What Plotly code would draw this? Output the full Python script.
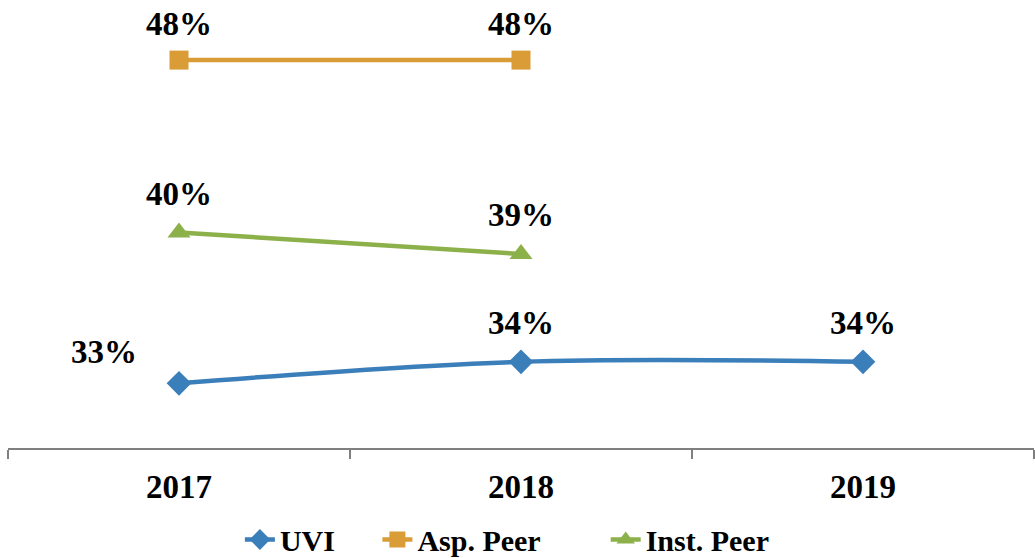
import plotly.graph_objects as go

years = ["2017", "2018", "2019"]
uvi = [33, 34, 34]
asp_peer = [48, 48, None]
inst_peer = [40, 39, None]
series_names = ["UVI", "Asp. Peer", "Inst. Peer"]

FONT = "Liberation Serif"
colors = ["#3A7EBA", "#D99C36", "#8CB04A"]
symbols = ["diamond", "square", "triangle-up"]
sizes = [19, 19, 20]
pads = ["\u00a0" * 5, "\u00a0" * 8, ""]

fig = go.Figure()
for name, vals, col, sym, sz, shape, pad in zip(series_names, [uvi, asp_peer, inst_peer], colors,
                                                 symbols, sizes, ["spline", "linear", "linear"], pads):
    fig.add_trace(go.Scatter(
        x=years, y=vals, name=f"<b>{name}</b>" + pad, mode="lines+markers",
        line=dict(color=col, width=4.5, shape=shape),
        marker=dict(symbol=sym, size=sz, color=col),
    ))

# data labels (x given as category index)
for vals in [uvi, asp_peer, inst_peer]:
    for i, v in enumerate(vals):
        if v is None:
            continue
        xs, ys = 0, 39
        if vals is uvi and i == 0:
            xs, ys = -75, 31
        if vals is asp_peer:
            ys = 36
        fig.add_annotation(x=i, y=v, xref="x", yref="y", text=f"<b>{v}%</b>", showarrow=False,
                           xshift=xs, yshift=ys, yanchor="middle", borderpad=0,
                           font=dict(family=FONT, size=33, color="black"))

fig.update_layout(
    width=1035, height=558,
    margin=dict(l=8, r=1, t=17, b=110, autoexpand=False),
    paper_bgcolor="white", plot_bgcolor="white",
    showlegend=True,
    legend=dict(orientation="h", x=0.226, xanchor="left", y=-0.152, yanchor="top",
                font=dict(family=FONT, size=30, color="black"),
                traceorder="normal"),
    font=dict(family=FONT, color="black"),
)
fig.update_xaxes(type="category", range=[-0.5, 2.5], showline=True, linecolor="#7f7f7f", linewidth=1.5,
                 ticks="outside", tickson="boundaries", ticklen=9, tickcolor="#7f7f7f", tickwidth=1.5,
                 showgrid=False, tickfont=dict(family=FONT, size=33, color="black"),
                 tickprefix="<b>", ticksuffix="</b>", ticklabelstandoff=9, automargin=False)
fig.update_yaxes(range=[30, 50], visible=False, showgrid=False, zeroline=False, automargin=False)

fig.write_html("out.html", config={"displayModeBar": False},
               post_script="document.body.style.margin='0';document.body.style.overflow='hidden';")
